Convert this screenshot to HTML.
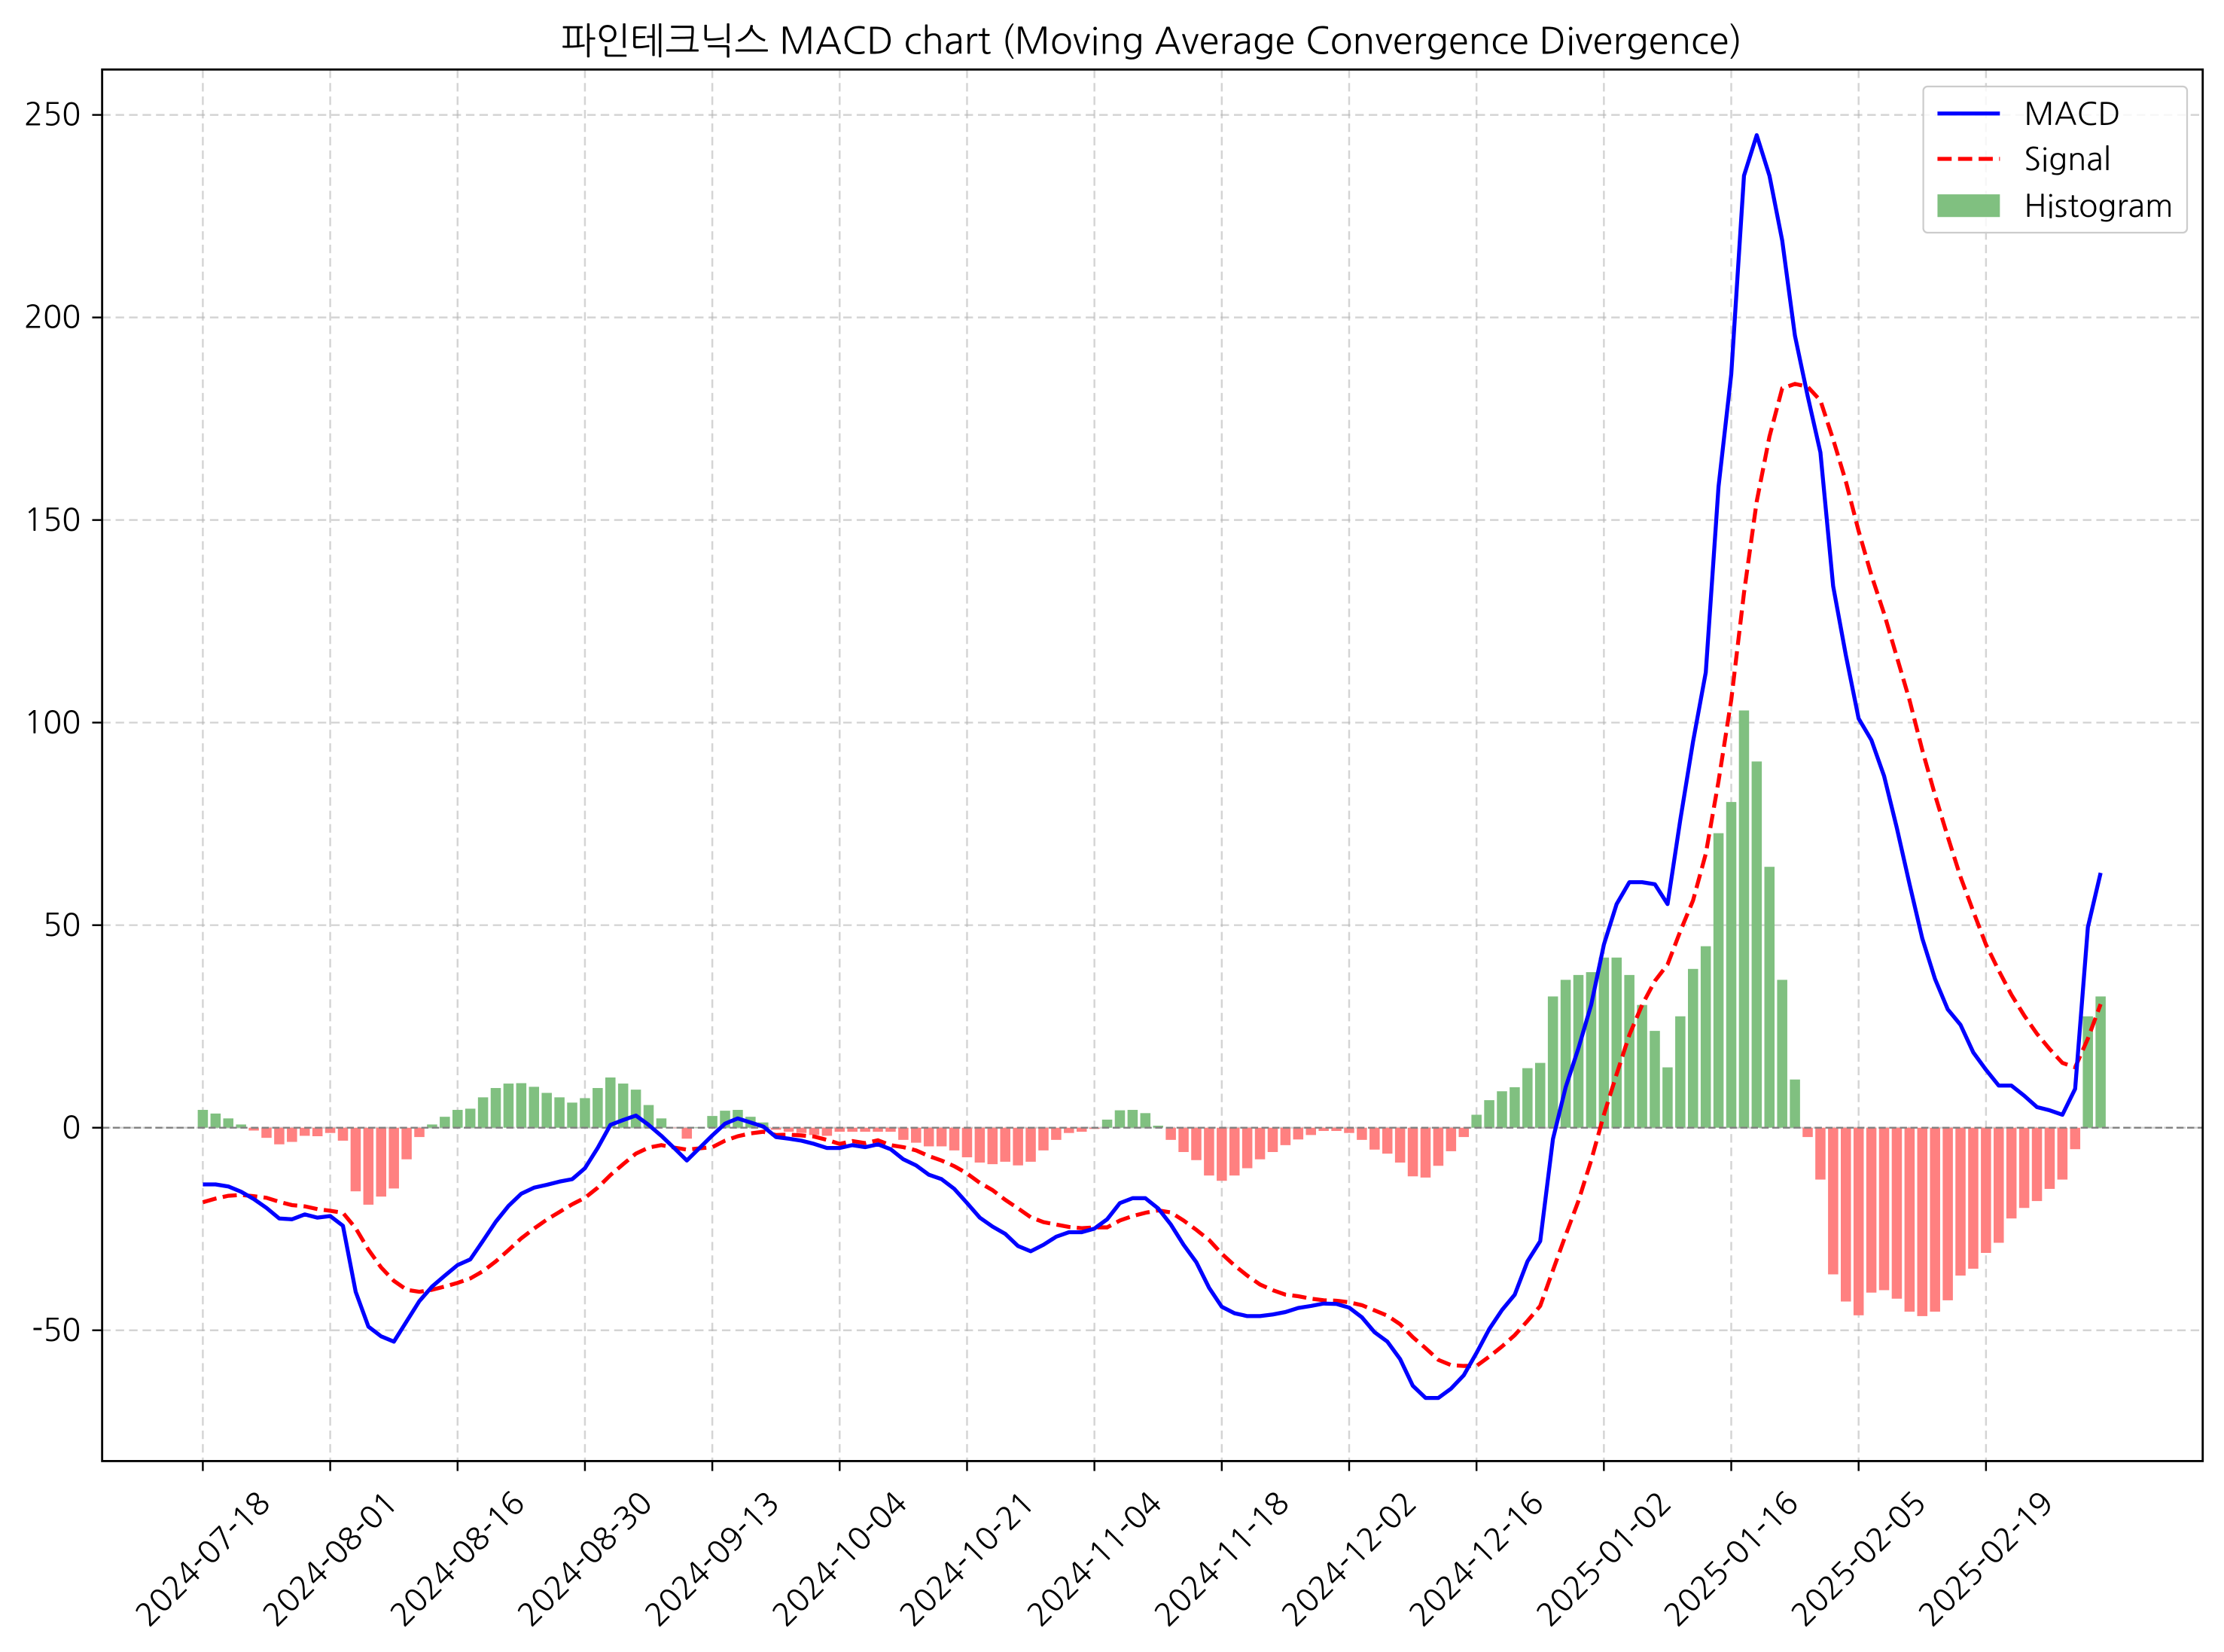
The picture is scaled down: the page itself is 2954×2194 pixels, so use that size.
<!DOCTYPE html>
<html><head><meta charset="utf-8">
<style>
html,body{margin:0;padding:0;background:#fff;}
svg{display:block;}
text{font-family:"NanumGothic","Liberation Sans","Noto Sans CJK KR",sans-serif;fill:#000;}
</style></head>
<body>
<svg id="chart" xmlns="http://www.w3.org/2000/svg" width="2954" height="2194" viewBox="0 0 1568 1164.6">
<rect x="0" y="0" width="1568" height="1164.6" fill="#fff"/>
<text x="812" y="38" font-size="26" text-anchor="middle">파인테크닉스 MACD chart (Moving Average Convergence Divergence)</text>
<g id="grid"></g>
<g id="bars"></g>
<line id="zeroline" stroke="#808080" stroke-width="1.3" stroke-dasharray="5,2.5"/>
<path id="signal" fill="none" stroke="#ff0000" stroke-width="2.8" stroke-dasharray="10,4.5"/>
<path id="macd" fill="none" stroke="#0000ff" stroke-width="2.8" stroke-linejoin="round"/>
<rect x="72" y="49" width="1481" height="981" fill="none" stroke="#000" stroke-width="1.5"/>
<g id="axes"></g>
<g>
<rect x="1356" y="61" width="186" height="103" rx="3" fill="#fff" fill-opacity="0.8" stroke="#ccc" stroke-width="1.2"/>
<line x1="1366" y1="80" x2="1410" y2="80" stroke="#0000ff" stroke-width="2.8"/>
<text x="1427" y="88" font-size="22">MACD</text>
<line x1="1366" y1="112" x2="1410" y2="112" stroke="#ff0000" stroke-width="2.8" stroke-dasharray="10,4.5"/>
<text x="1427" y="120" font-size="22">Signal</text>
<rect x="1366" y="137" width="44" height="16" fill="#80c080"/>
<text x="1427" y="153" font-size="22">Histogram</text>
</g>
</svg>
<script>
const macdValues=[-14,-14,-14.5,-15.8,-17.6,-19.8,-22.4,-22.6,-21.4,-22.2,-21.8,-24.2,-40.5,-49.1,-51.5,-52.8,-47.8,-42.8,-39.2,-36.5,-33.9,-32.5,-27.9,-23.2,-19.3,-16.3,-14.8,-14.1,-13.3,-12.7,-10,-5,0.7,1.9,3,0.7,-2,-5,-8.1,-5,-1.9,1,2.3,1.3,0.3,-2.3,-2.7,-3.2,-4,-5,-5,-4.3,-4.8,-4.1,-5.3,-7.8,-9.3,-11.6,-12.7,-15.1,-18.6,-22.2,-24.4,-26.2,-29.2,-30.5,-28.9,-26.9,-25.8,-25.8,-24.9,-22.6,-18.6,-17.4,-17.4,-19.9,-23.9,-28.9,-33.2,-39.5,-44.2,-45.8,-46.5,-46.5,-46.1,-45.5,-44.5,-44,-43.4,-43.5,-44.4,-46.8,-50.5,-52.8,-57.1,-63.7,-66.7,-66.7,-64.4,-61.1,-55.6,-49.7,-45,-41.2,-33,-28,-2.8,10,19.6,30.3,45.2,55.2,60.6,60.6,60.1,55.2,76,95.3,112.4,158.2,186,235,245,235,219,195.5,180.6,166.7,133.7,116.6,101,95.7,86.8,74,60.1,46.7,36.7,29.2,25.4,18.6,14.3,10.4,10.4,7.9,5.1,4.3,3.2,9.6,49.5,62.9];
const signalValues=[-18.4,-17.5,-16.8,-16.6,-16.9,-17.3,-18.3,-19.1,-19.4,-20.1,-20.5,-21,-24.8,-30.1,-34.5,-37.8,-40,-40.5,-40,-39.2,-38.3,-37.2,-35.4,-33,-30.2,-27.3,-24.9,-22.7,-20.8,-18.9,-17.3,-14.8,-11.7,-9,-6.4,-4.9,-4.3,-4.9,-5.4,-5.1,-4.8,-3.2,-2.1,-1.4,-1,-1.8,-1.7,-1.9,-2.2,-3,-4,-3.3,-3.8,-3.1,-4.3,-4.8,-5.6,-7,-8.1,-9.5,-11.3,-13.6,-15.4,-17.8,-19.9,-22.1,-23.3,-23.9,-24.5,-24.8,-24.6,-24.6,-22.9,-21.8,-21,-20.4,-20.9,-22.9,-25.2,-27.7,-31.1,-34,-36.5,-38.7,-40.1,-41.2,-41.6,-42.2,-42.6,-42.7,-43.1,-43.8,-45.1,-46.4,-48.5,-51.7,-54.4,-57.3,-58.6,-58.8,-58.8,-56.5,-54,-51.2,-47.7,-44,-35.2,-26.5,-18.1,-8.1,3.2,13.2,22.9,30.3,36.2,40.3,48.5,56.1,67.6,85.5,105.6,132,154.6,170.6,182.5,183.6,182.9,179.5,169.9,159.5,147.3,136.4,126.9,116.2,105.5,93.2,82.1,71.8,61.9,53.4,45.2,38.8,32.8,27.7,23.2,19.4,16,14.9,22,30.5];
const histValues=[4.4,3.5,2.3,0.8,-0.7,-2.5,-4.1,-3.5,-2,-2.1,-1.3,-3.2,-15.7,-19,-17,-15,-7.8,-2.3,0.8,2.7,4.4,4.7,7.5,9.8,10.9,11,10.1,8.6,7.5,6.2,7.3,9.8,12.4,10.9,9.4,5.6,2.3,-0.1,-2.7,0.1,2.9,4.2,4.4,2.7,1.3,-0.5,-1,-1.3,-1.8,-2,-1,-1,-1,-1,-1,-3,-3.7,-4.6,-4.6,-5.6,-7.3,-8.6,-9,-8.4,-9.3,-8.4,-5.6,-3,-1.3,-1,-0.3,2,4.3,4.4,3.6,0.5,-3,-6,-8,-11.8,-13.1,-11.8,-10,-7.8,-6,-4.3,-2.9,-1.8,-0.8,-0.8,-1.3,-3,-5.4,-6.4,-8.6,-12,-12.3,-9.4,-5.8,-2.3,3.2,6.8,9,10,14.7,16,32.4,36.5,37.7,38.4,42,42,37.7,30.3,23.9,14.9,27.5,39.2,44.8,72.7,80.4,103,90.4,64.4,36.5,11.9,-2.3,-12.8,-36.2,-42.9,-46.3,-40.7,-40.1,-42.2,-45.4,-46.5,-45.4,-42.6,-36.5,-34.8,-30.9,-28.4,-22.4,-19.8,-18.1,-15.1,-12.8,-5.3,27.5,32.4];
const xTickLabels=["2024-07-18","2024-08-01","2024-08-16","2024-08-30","2024-09-13","2024-10-04","2024-10-21","2024-11-04","2024-11-18","2024-12-02","2024-12-16","2025-01-02","2025-01-16","2025-02-05","2025-02-19"];
const xTickIndex=[0,10,20,30,40,50,60,70,80,90,100,110,120,130,140];
const yTickValues=[-50,0,50,100,150,200,250];

const NS="http://www.w3.org/2000/svg";
const X0=143, DX=8.98, Y0=795, KY=142.8/50;
function xs(i){return X0+DX*i;}
function ys(v){return Y0-KY*v;}
function mk(tag,attrs,parent){const e=document.createElementNS(NS,tag);for(const k in attrs)e.setAttribute(k,attrs[k]);parent.appendChild(e);return e;}

const grid=document.getElementById('grid'), axes=document.getElementById('axes'), bars=document.getElementById('bars');
xTickIndex.forEach((idx,k)=>{
  const x=xs(idx);
  const g=mk('line',{x1:x,y1:49,x2:x,y2:1030,stroke:'#b0b0b0','stroke-opacity':'0.55','stroke-width':1.3,'stroke-dasharray':'6,3.5'},grid);
  
  
  const t=mk('line',{x1:x,y1:1030,x2:x,y2:1037,stroke:'#000','stroke-width':1.3},axes);
  
  
  const lb=mk('text',{x:x,y:1099,'font-size':22,'text-anchor':'middle','dominant-baseline':'central',transform:'rotate(-45 '+x+' 1099)'},axes);
  lb.textContent=xTickLabels[k];
  
  
});
yTickValues.forEach(v=>{
  const y=ys(v);
  const g=mk('line',{x1:72,y1:y,x2:1553,y2:y,stroke:'#b0b0b0','stroke-opacity':'0.55','stroke-width':1.3,'stroke-dasharray':'6,3.5'},grid);
  
  
  const t=mk('line',{x1:65,y1:y,x2:72,y2:y,stroke:'#000','stroke-width':1.3},axes);
  
  
  const lb=mk('text',{x:57,y:y+7.5,'font-size':22,'text-anchor':'end'},axes);
  lb.textContent=String(v);
  
  
});
const bw=DX*0.8;
histValues.forEach((v,i)=>{
  const y1=ys(Math.max(v,0)), y2=ys(Math.min(v,0));
  const r=mk('rect',{x:xs(i)-bw/2,y:y1,width:bw,height:Math.max(y2-y1,0.01),fill:v>=0?'#80c080':'#ff8080'},bars);
  
  
});
const z=document.getElementById('zeroline');
z.setAttribute('x1',72);z.setAttribute('x2',1553);z.setAttribute('y1',ys(0));z.setAttribute('y2',ys(0));
function pathOf(arr){return arr.map((v,i)=>(i?'L':'M')+xs(i).toFixed(2)+','+ys(v).toFixed(2)).join('');}
document.getElementById('macd').setAttribute('d',pathOf(macdValues));
document.getElementById('signal').setAttribute('d',pathOf(signalValues));
</script>
</body></html>
